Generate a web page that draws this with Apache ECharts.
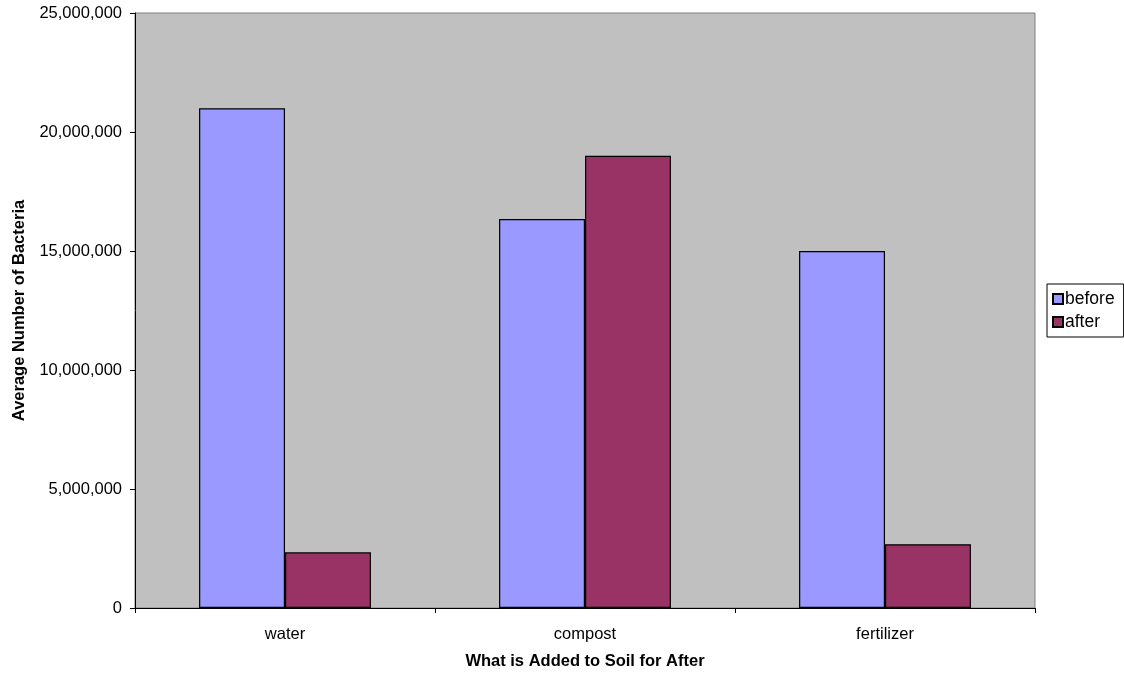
<!DOCTYPE html>
<html>
<head>
<meta charset="utf-8">
<script src="https://cdn.jsdelivr.net/npm/echarts@6/dist/echarts.min.js"></script>
<style>
html,body{margin:0;padding:0;background:#fff;}
#chart{width:1124px;height:677px;}
</style>
</head>
<body>
<div id="chart"></div>
<script>
// Soil bacteria counts, before and after each treatment
const categories = ['water', 'compost', 'fertilizer'];
const beforeValues = [21000000, 16340000, 15000000];
const afterValues = [2340000, 19000000, 2680000];
const seriesNames = ['before', 'after'];
const yTicks = { min: 0, max: 25000000, interval: 5000000 };

const font = 'Liberation Sans, Arial, sans-serif';
const chart = echarts.init(document.getElementById('chart'));

chart.setOption({
  animation: false,
  grid: { left: 135, top: 13, width: 900, height: 595, containLabel: false,
          outerBoundsMode: 'none',
          show: true, backgroundColor: '#c0c0c0', borderColor: '#808080', borderWidth: 1 },
  legend: {
    orient: 'vertical', left: 1047, top: 284,
    data: seriesNames,
    itemWidth: 10, itemHeight: 10, itemGap: 5,
    padding: [6, 9, 6, 5],
    borderColor: '#000', borderWidth: 1,
    textStyle: { fontFamily: font, fontSize: 17.5, color: '#000', padding: [0, 0, 0, -3] },
    icon: 'rect'
  },
  xAxis: {
    type: 'category', data: categories,
    name: 'What is Added to Soil for After', nameLocation: 'middle', nameGap: 45,
    nameTextStyle: { fontFamily: font, fontSize: 16.5, fontWeight: 'bold', color: '#000' },
    axisLine: { lineStyle: { color: '#000', width: 1 } },
    axisTick: { show: true, length: 5, lineStyle: { color: '#000' } },
    axisLabel: { fontFamily: font, fontSize: 16.5, color: '#000', margin: 18 }
  },
  yAxis: {
    type: 'value', min: yTicks.min, max: yTicks.max, interval: yTicks.interval,
    name: 'Average Number of Bacteria', nameLocation: 'middle', nameGap: 107,
    nameTextStyle: { fontFamily: font, fontSize: 16.5, fontWeight: 'bold', color: '#000' },
    axisLine: { show: true, lineStyle: { color: '#000', width: 1 } },
    axisTick: { show: true, length: 5, lineStyle: { color: '#000' } },
    splitLine: { show: false },
    axisLabel: { fontFamily: font, fontSize: 16.5, color: '#000', margin: 13,
      formatter: v => v.toLocaleString('en-US') }
  },
  series: [
    { name: seriesNames[0], type: 'bar', data: beforeValues, barGap: '0%', barCategoryGap: '42.7%',
      itemStyle: { color: '#9999ff', borderColor: '#000', borderWidth: 1.2 } },
    { name: seriesNames[1], type: 'bar', data: afterValues,
      itemStyle: { color: '#993366', borderColor: '#000', borderWidth: 1.2 } }
  ]
});
</script>
</body>
</html>
